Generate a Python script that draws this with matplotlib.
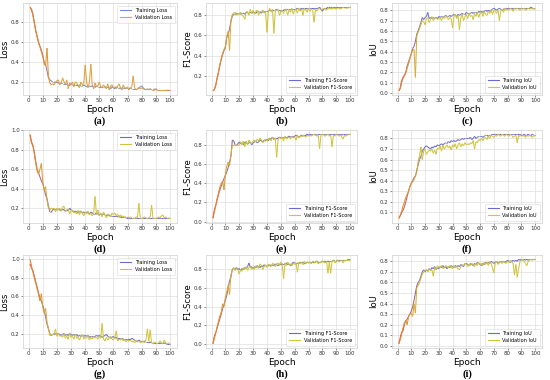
import numpy as np
import matplotlib
matplotlib.use("Agg")
import matplotlib.pyplot as plt
from matplotlib.collections import LineCollection
from matplotlib.lines import Line2D
from matplotlib.colors import to_rgb

epochs = list(range(1, 101))

a_train = [0.95,0.93,0.88,0.80,0.72,0.66,0.60,0.56,0.52,0.47,
           0.40,0.37,0.31,0.24,0.22,0.21,0.20,0.20,0.19,0.20,
           0.19,0.18,0.19,0.18,0.18,0.17,0.18,0.17,0.17,0.18,
           0.17,0.16,0.17,0.17,0.16,0.17,0.16,0.16,0.17,0.16,
           0.15,0.16,0.16,0.15,0.16,0.15,0.15,0.16,0.15,0.15,
           0.15,0.14,0.15,0.15,0.14,0.15,0.14,0.14,0.15,0.14,
           0.14,0.15,0.14,0.14,0.13,0.14,0.14,0.13,0.14,0.13,
           0.13,0.14,0.13,0.13,0.13,0.13,0.13,0.14,0.15,0.16,
           0.14,0.13,0.13,0.13,0.12,0.13,0.12,0.12,0.12,0.13,
           0.12,0.12,0.12,0.12,0.12,0.12,0.12,0.12,0.12,0.12]
a_val = [0.95,0.92,0.87,0.79,0.71,0.65,0.59,0.55,0.50,0.45,
         0.38,0.36,0.54,0.26,0.19,0.17,0.18,0.17,0.20,0.21,
         0.22,0.17,0.19,0.24,0.20,0.18,0.22,0.13,0.19,0.17,
         0.20,0.15,0.20,0.19,0.16,0.14,0.20,0.17,0.18,0.37,
         0.20,0.14,0.19,0.38,0.17,0.13,0.19,0.15,0.16,0.20,
         0.15,0.14,0.17,0.15,0.13,0.18,0.12,0.16,0.17,0.14,
         0.15,0.13,0.16,0.18,0.14,0.12,0.17,0.14,0.13,0.15,
         0.12,0.14,0.15,0.26,0.14,0.12,0.13,0.14,0.13,0.14,
         0.13,0.13,0.12,0.13,0.12,0.13,0.12,0.12,0.13,0.12,
         0.12,0.12,0.12,0.12,0.12,0.12,0.12,0.11,0.12,0.12]

b_train = [0.05,0.06,0.10,0.17,0.23,0.30,0.36,0.41,0.45,0.48,
           0.58,0.62,0.66,0.74,0.79,0.81,0.81,0.82,0.81,0.82,
           0.81,0.82,0.82,0.81,0.83,0.82,0.82,0.83,0.82,0.83,
           0.83,0.82,0.84,0.83,0.83,0.82,0.84,0.83,0.84,0.84,
           0.84,0.85,0.85,0.84,0.85,0.85,0.86,0.85,0.85,0.84,
           0.85,0.85,0.86,0.85,0.86,0.86,0.85,0.86,0.86,0.86,
           0.86,0.87,0.86,0.86,0.87,0.86,0.87,0.87,0.86,0.87,
           0.87,0.87,0.87,0.86,0.87,0.87,0.87,0.88,0.86,0.84,
           0.86,0.87,0.87,0.88,0.88,0.87,0.88,0.88,0.88,0.88,
           0.88,0.88,0.88,0.88,0.88,0.88,0.88,0.88,0.88,0.88]
b_val = [0.05,0.06,0.11,0.18,0.24,0.31,0.37,0.42,0.46,0.49,
         0.59,0.64,0.45,0.75,0.81,0.82,0.83,0.80,0.82,0.81,
         0.83,0.80,0.79,0.76,0.83,0.84,0.80,0.86,0.82,0.85,
         0.81,0.84,0.85,0.80,0.84,0.83,0.85,0.82,0.83,0.63,
         0.84,0.87,0.83,0.86,0.62,0.84,0.85,0.86,0.80,0.83,
         0.85,0.82,0.86,0.84,0.80,0.86,0.83,0.87,0.81,0.85,
         0.86,0.82,0.87,0.84,0.86,0.80,0.87,0.85,0.83,0.87,
         0.84,0.86,0.85,0.73,0.86,0.84,0.86,0.87,0.85,0.86,
         0.87,0.86,0.85,0.87,0.86,0.87,0.86,0.87,0.87,0.86,
         0.87,0.87,0.86,0.87,0.88,0.87,0.87,0.87,0.88,0.87]

c_train = [0.02,0.05,0.12,0.15,0.17,0.20,0.26,0.30,0.34,0.38,
           0.43,0.45,0.50,0.57,0.60,0.64,0.68,0.73,0.71,0.73,
           0.74,0.78,0.72,0.73,0.72,0.73,0.72,0.73,0.72,0.74,
           0.73,0.74,0.73,0.74,0.75,0.74,0.74,0.75,0.74,0.75,
           0.76,0.75,0.74,0.76,0.75,0.76,0.77,0.76,0.76,0.78,
           0.77,0.76,0.77,0.78,0.77,0.78,0.78,0.77,0.79,0.78,
           0.79,0.78,0.79,0.80,0.79,0.80,0.79,0.80,0.81,0.82,
           0.81,0.80,0.81,0.82,0.81,0.80,0.81,0.82,0.82,0.82,
           0.82,0.82,0.82,0.81,0.82,0.82,0.82,0.82,0.82,0.82,
           0.82,0.82,0.82,0.82,0.82,0.82,0.83,0.82,0.82,0.81]
c_val = [0.02,0.04,0.10,0.14,0.16,0.19,0.24,0.28,0.33,0.38,
         0.41,0.42,0.15,0.55,0.59,0.62,0.66,0.70,0.69,0.66,
         0.72,0.73,0.68,0.71,0.74,0.70,0.72,0.73,0.71,0.72,
         0.73,0.70,0.74,0.72,0.73,0.74,0.71,0.73,0.72,0.63,
         0.74,0.76,0.72,0.75,0.61,0.73,0.76,0.70,0.74,0.76,
         0.72,0.77,0.74,0.75,0.71,0.77,0.74,0.78,0.73,0.77,
         0.78,0.74,0.79,0.76,0.75,0.79,0.77,0.80,0.76,0.80,
         0.79,0.77,0.80,0.70,0.79,0.81,0.78,0.82,0.80,0.81,
         0.80,0.82,0.81,0.79,0.82,0.81,0.82,0.81,0.80,0.82,
         0.81,0.82,0.80,0.81,0.82,0.81,0.82,0.81,0.82,0.81]

d_train = [0.95,0.88,0.85,0.78,0.68,0.60,0.56,0.52,0.48,0.45,
           0.40,0.33,0.30,0.22,0.16,0.16,0.18,0.19,0.19,0.18,
           0.19,0.18,0.17,0.19,0.18,0.17,0.18,0.17,0.20,0.18,
           0.17,0.16,0.17,0.16,0.15,0.16,0.17,0.15,0.16,0.15,
           0.16,0.15,0.14,0.16,0.15,0.14,0.14,0.15,0.14,0.13,
           0.14,0.13,0.14,0.13,0.13,0.12,0.13,0.12,0.12,0.12,
           0.12,0.12,0.11,0.12,0.11,0.11,0.11,0.11,0.10,0.10,
           0.10,0.10,0.10,0.10,0.10,0.10,0.10,0.10,0.10,0.10,
           0.10,0.10,0.10,0.10,0.10,0.10,0.10,0.10,0.10,0.10,
           0.10,0.10,0.10,0.10,0.10,0.10,0.10,0.10,0.10,0.09]
d_val = [0.96,0.87,0.84,0.76,0.66,0.58,0.55,0.60,0.66,0.47,
         0.38,0.42,0.28,0.20,0.18,0.20,0.19,0.20,0.16,0.20,
         0.18,0.20,0.17,0.21,0.22,0.16,0.18,0.19,0.14,0.17,
         0.18,0.15,0.16,0.14,0.18,0.13,0.17,0.15,0.12,0.16,
         0.14,0.17,0.13,0.15,0.12,0.14,0.32,0.13,0.18,0.12,
         0.15,0.11,0.16,0.13,0.10,0.14,0.12,0.11,0.15,0.13,
         0.15,0.12,0.14,0.10,0.13,0.11,0.12,0.10,0.11,0.11,
         0.10,0.11,0.10,0.10,0.09,0.11,0.10,0.25,0.10,0.09,
         0.10,0.11,0.10,0.09,0.10,0.11,0.23,0.10,0.10,0.09,
         0.10,0.11,0.10,0.12,0.13,0.10,0.11,0.10,0.10,0.10]

e_train = [0.04,0.12,0.17,0.22,0.28,0.33,0.37,0.41,0.45,0.48,
           0.52,0.56,0.62,0.68,0.85,0.84,0.80,0.80,0.81,0.83,
           0.81,0.82,0.80,0.83,0.82,0.81,0.82,0.83,0.80,0.82,
           0.83,0.84,0.82,0.83,0.85,0.84,0.83,0.85,0.84,0.86,
           0.84,0.87,0.86,0.88,0.86,0.87,0.86,0.87,0.88,0.87,
           0.88,0.87,0.88,0.87,0.88,0.89,0.88,0.89,0.88,0.89,
           0.90,0.89,0.88,0.89,0.90,0.89,0.90,0.90,0.91,0.90,
           0.91,0.90,0.91,0.91,0.90,0.91,0.91,0.91,0.91,0.91,
           0.91,0.91,0.91,0.91,0.91,0.91,0.91,0.91,0.91,0.91,
           0.91,0.91,0.91,0.90,0.91,0.91,0.91,0.91,0.91,0.91]
e_val = [0.03,0.10,0.16,0.24,0.30,0.36,0.40,0.42,0.33,0.50,
         0.58,0.62,0.58,0.70,0.80,0.80,0.79,0.80,0.79,0.80,
         0.83,0.80,0.84,0.78,0.84,0.80,0.85,0.82,0.81,0.84,
         0.85,0.83,0.86,0.84,0.87,0.85,0.82,0.84,0.86,0.84,
         0.86,0.87,0.84,0.88,0.85,0.87,0.67,0.85,0.88,0.86,
         0.88,0.84,0.89,0.86,0.87,0.88,0.86,0.89,0.87,0.88,
         0.85,0.90,0.87,0.89,0.88,0.90,0.89,0.88,0.90,0.89,
         0.90,0.89,0.90,0.91,0.90,0.89,0.90,0.76,0.90,0.91,
         0.90,0.89,0.90,0.91,0.89,0.90,0.78,0.90,0.89,0.91,
         0.90,0.89,0.90,0.88,0.86,0.90,0.89,0.90,0.91,0.91]

f_train = [0.05,0.07,0.10,0.12,0.15,0.20,0.25,0.30,0.34,0.38,
           0.40,0.43,0.44,0.50,0.55,0.60,0.63,0.68,0.70,0.72,
           0.73,0.72,0.71,0.70,0.72,0.71,0.73,0.72,0.74,0.73,
           0.74,0.75,0.74,0.75,0.76,0.76,0.77,0.76,0.78,0.77,
           0.78,0.77,0.78,0.79,0.78,0.79,0.80,0.79,0.80,0.80,
           0.80,0.80,0.81,0.79,0.80,0.82,0.80,0.81,0.82,0.82,
           0.82,0.81,0.82,0.83,0.83,0.82,0.83,0.83,0.84,0.84,
           0.84,0.84,0.84,0.84,0.84,0.84,0.84,0.84,0.84,0.84,
           0.84,0.84,0.84,0.84,0.84,0.84,0.84,0.84,0.84,0.83,
           0.83,0.84,0.83,0.83,0.84,0.83,0.83,0.84,0.83,0.83]
f_val = [0.04,0.07,0.11,0.16,0.20,0.24,0.27,0.30,0.35,0.37,
         0.39,0.41,0.45,0.48,0.58,0.64,0.72,0.60,0.68,0.70,
         0.65,0.67,0.69,0.68,0.70,0.66,0.69,0.65,0.71,0.70,
         0.73,0.68,0.74,0.70,0.72,0.74,0.71,0.73,0.69,0.74,
         0.72,0.75,0.70,0.74,0.76,0.72,0.75,0.73,0.76,0.74,
         0.75,0.74,0.76,0.75,0.78,0.70,0.77,0.76,0.79,0.78,
         0.80,0.78,0.80,0.81,0.79,0.82,0.80,0.83,0.82,0.81,
         0.83,0.82,0.84,0.83,0.82,0.84,0.83,0.82,0.84,0.83,
         0.82,0.84,0.83,0.81,0.82,0.83,0.76,0.83,0.82,0.84,
         0.82,0.83,0.81,0.83,0.82,0.83,0.82,0.81,0.82,0.83]

g_train = [0.95,0.90,0.88,0.82,0.76,0.70,0.64,0.58,0.55,0.50,
           0.45,0.38,0.30,0.25,0.20,0.18,0.19,0.19,0.20,0.19,
           0.20,0.19,0.18,0.19,0.20,0.18,0.19,0.18,0.20,0.19,
           0.18,0.19,0.18,0.19,0.17,0.18,0.17,0.18,0.17,0.18,
           0.17,0.18,0.16,0.17,0.17,0.16,0.17,0.18,0.17,0.18,
           0.17,0.16,0.17,0.18,0.19,0.17,0.16,0.15,0.16,0.17,
           0.15,0.16,0.14,0.15,0.14,0.15,0.14,0.13,0.14,0.13,
           0.14,0.13,0.15,0.14,0.13,0.12,0.12,0.13,0.12,0.12,
           0.11,0.12,0.11,0.11,0.10,0.11,0.10,0.10,0.10,0.10,
           0.10,0.10,0.09,0.10,0.09,0.10,0.09,0.09,0.09,0.09]
g_val = [1.00,0.93,0.86,0.80,0.74,0.68,0.62,0.55,0.63,0.48,
         0.42,0.47,0.32,0.26,0.18,0.19,0.19,0.20,0.25,0.17,
         0.20,0.17,0.18,0.16,0.20,0.15,0.17,0.14,0.20,0.16,
         0.17,0.14,0.19,0.15,0.16,0.13,0.17,0.19,0.14,0.16,
         0.15,0.18,0.13,0.16,0.14,0.17,0.15,0.16,0.14,0.17,
         0.15,0.31,0.14,0.12,0.16,0.13,0.15,0.17,0.14,0.13,
         0.16,0.23,0.12,0.14,0.13,0.15,0.12,0.14,0.11,0.13,
         0.12,0.13,0.11,0.12,0.10,0.13,0.11,0.12,0.10,0.11,
         0.12,0.10,0.13,0.25,0.12,0.24,0.10,0.09,0.11,0.10,
         0.09,0.10,0.12,0.10,0.09,0.13,0.10,0.09,0.10,0.09]

h_train = [0.00,0.08,0.12,0.17,0.22,0.27,0.32,0.38,0.42,0.47,
           0.52,0.60,0.68,0.72,0.80,0.81,0.80,0.82,0.80,0.81,
           0.79,0.81,0.80,0.82,0.81,0.83,0.87,0.82,0.83,0.81,
           0.83,0.82,0.84,0.83,0.82,0.84,0.83,0.85,0.84,0.83,
           0.84,0.85,0.84,0.85,0.84,0.86,0.85,0.84,0.86,0.85,
           0.86,0.85,0.86,0.87,0.85,0.86,0.84,0.86,0.88,0.87,
           0.86,0.87,0.86,0.88,0.87,0.88,0.86,0.87,0.88,0.87,
           0.88,0.87,0.88,0.87,0.88,0.89,0.88,0.87,0.88,0.89,
           0.88,0.89,0.88,0.89,0.88,0.89,0.89,0.90,0.89,0.89,
           0.90,0.89,0.90,0.90,0.90,0.90,0.90,0.90,0.91,0.90]
h_val = [0.00,0.06,0.11,0.18,0.24,0.30,0.34,0.43,0.40,0.50,
         0.56,0.63,0.53,0.74,0.80,0.82,0.79,0.81,0.80,0.75,
         0.80,0.78,0.82,0.80,0.83,0.79,0.82,0.84,0.80,0.82,
         0.80,0.84,0.83,0.81,0.86,0.84,0.80,0.83,0.85,0.82,
         0.86,0.84,0.83,0.87,0.85,0.83,0.86,0.87,0.84,0.88,
         0.85,0.70,0.87,0.84,0.88,0.85,0.86,0.84,0.87,0.85,
         0.87,0.77,0.88,0.86,0.88,0.85,0.89,0.86,0.88,0.87,
         0.88,0.86,0.89,0.88,0.87,0.89,0.86,0.88,0.87,0.89,
         0.88,0.87,0.89,0.76,0.88,0.76,0.89,0.90,0.87,0.89,
         0.90,0.88,0.89,0.90,0.87,0.90,0.89,0.90,0.90,0.90]

i_train = [0.02,0.08,0.13,0.14,0.20,0.24,0.25,0.28,0.30,0.33,
           0.37,0.43,0.50,0.57,0.60,0.62,0.66,0.70,0.72,0.70,
           0.72,0.71,0.73,0.72,0.74,0.73,0.75,0.72,0.74,0.73,
           0.75,0.74,0.76,0.74,0.75,0.73,0.75,0.74,0.76,0.75,
           0.74,0.76,0.75,0.76,0.75,0.77,0.76,0.75,0.78,0.78,
           0.77,0.76,0.78,0.77,0.76,0.78,0.77,0.79,0.78,0.77,
           0.76,0.78,0.77,0.79,0.78,0.79,0.78,0.80,0.79,0.78,
           0.79,0.80,0.78,0.79,0.80,0.79,0.80,0.79,0.80,0.81,
           0.80,0.79,0.80,0.81,0.80,0.81,0.80,0.82,0.81,0.82,
           0.81,0.82,0.81,0.82,0.81,0.82,0.82,0.82,0.82,0.82]
i_val = [0.02,0.06,0.11,0.17,0.22,0.24,0.20,0.27,0.30,0.31,
         0.28,0.40,0.31,0.55,0.57,0.60,0.64,0.68,0.70,0.71,
         0.72,0.70,0.73,0.71,0.72,0.66,0.74,0.72,0.76,0.74,
         0.75,0.76,0.73,0.74,0.76,0.75,0.74,0.76,0.75,0.73,
         0.76,0.74,0.75,0.73,0.72,0.75,0.77,0.76,0.78,0.77,
         0.75,0.77,0.76,0.78,0.77,0.75,0.78,0.76,0.79,0.77,
         0.78,0.76,0.79,0.77,0.79,0.76,0.80,0.78,0.74,0.69,
         0.78,0.80,0.77,0.79,0.80,0.78,0.80,0.79,0.78,0.80,
         0.79,0.81,0.80,0.78,0.67,0.77,0.65,0.73,0.80,0.81,
         0.82,0.80,0.78,0.76,0.80,0.81,0.82,0.81,0.82,0.82]

panel_letters = ["(a)", "(b)", "(c)", "(d)", "(e)", "(f)", "(g)", "(h)", "(i)"]
metric_names = ["Loss", "F1-Score", "IoU"]
train_labels = ["Training Loss", "Training F1-Score", "Training IoU"]
val_labels = ["Validation Loss", "Validation F1-Score", "Validation IoU"]
series = [(a_train, a_val), (b_train, b_val), (c_train, c_val),
          (d_train, d_val), (e_train, e_val), (f_train, f_val),
          (g_train, g_val), (h_train, h_val), (i_train, i_val)]

W, H = 550, 380
fig = plt.figure(figsize=(5.5, 3.8), dpi=100)
cols = [(23, 177), (206, 357), (392, 542)]
rows = [(3, 95), (130, 223), (255, 348)]

yticks = {
    0: [0.2, 0.4, 0.6, 0.8],
    1: [0.2, 0.4, 0.6, 0.8],
    2: [0.0, 0.1, 0.2, 0.3, 0.4, 0.5, 0.6, 0.7, 0.8],
    3: [0.2, 0.4, 0.6, 0.8, 1.0],
    4: [0.0, 0.2, 0.4, 0.6, 0.8],
    5: [0.1, 0.2, 0.3, 0.4, 0.5, 0.6, 0.7, 0.8],
    6: [0.2, 0.4, 0.6, 0.8, 1.0],
    7: [0.0, 0.2, 0.4, 0.6, 0.8],
    8: [0.0, 0.1, 0.2, 0.3, 0.4, 0.5, 0.6, 0.7, 0.8],
}

def mix(c1, c2, f):
    a = np.array(to_rgb(c1)); b = np.array(to_rgb(c2))
    return tuple(a + (b - a) * f)

def grad_line(ax, x, y, early, late, n=18, lw=0.75):
    pts = np.column_stack([x, y])
    segs = np.stack([pts[:-1], pts[1:]], axis=1)
    cols_ = [mix(early, late, min(k / n, 1.0)) for k in range(len(segs))]
    lc = LineCollection(segs, colors=cols_, linewidths=lw)
    ax.add_collection(lc)

for idx, (tr, va) in enumerate(series):
    r, c = divmod(idx, 3)
    x0, x1 = cols[c]
    y0, y1 = rows[r]
    ax = fig.add_axes([x0 / W, 1 - y1 / H, (x1 - x0) / W, (y1 - y0) / H])
    ax.set_facecolor("white")
    ax.grid(True, color="#dedede", linewidth=0.5)
    ax.set_axisbelow(True)
    for s in ax.spines.values():
        s.set_color("#cfcfcf")
        s.set_linewidth(0.5)
    if idx == 0:
        tr_late, va_late = "#6f8fd0", "#e0a040"
    else:
        tr_late, va_late = "#6c6cc8", "#cfc43a"
    grad_line(ax, epochs, tr, "#e05545", tr_late)
    grad_line(ax, epochs, va, "#e0802a", va_late)
    ax.plot(epochs, tr, alpha=0)
    ax.plot(epochs, va, alpha=0)
    ax.set_xlim(-4, 105)
    allv = tr + va
    lo, hi = min(allv), max(allv)
    pad = (hi - lo) * 0.05
    ax.set_ylim(lo - pad, hi + pad)
    ax.set_xticks(range(0, 101, 10))
    ax.set_yticks(yticks[idx])
    ax.tick_params(labelsize=4.0, length=1.2, width=0.4, pad=1.2, colors="#333333")
    ax.set_xlabel("Epoch", fontsize=6.5, labelpad=1)
    ax.set_ylabel(metric_names[c], fontsize=6.0, labelpad=1)
    handles = [Line2D([], [], color=tr_late, lw=0.8), Line2D([], [], color=va_late, lw=0.8)]
    loc = "upper right" if c == 0 else "lower right"
    leg = ax.legend(handles, [train_labels[c], val_labels[c]], loc=loc, fontsize=3.6,
                    frameon=True, handlelength=2.2, borderpad=0.5, labelspacing=0.4)
    leg.get_frame().set_linewidth(0.4)
    leg.get_frame().set_edgecolor("#cccccc")
    fig.text((x0 + x1) / 2 / W, 1 - (y1 + 26) / H, panel_letters[idx],
             ha="center", va="center", fontsize=7.5, fontweight="bold",
             family="Liberation Serif")

fig.savefig("out.png", dpi=100, facecolor="white")
